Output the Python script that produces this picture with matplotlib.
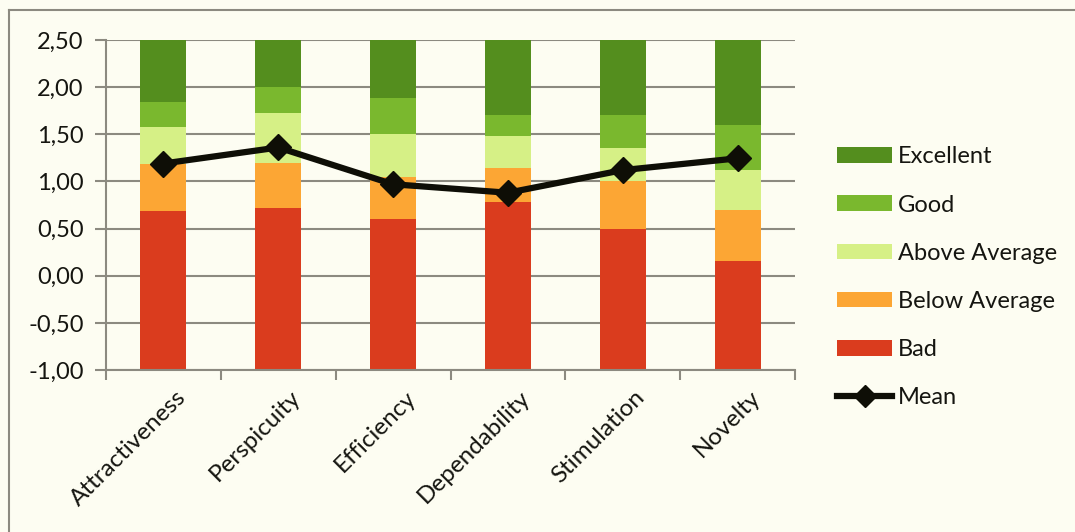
import matplotlib
matplotlib.use("Agg")
import matplotlib.pyplot as plt
import numpy as np
from matplotlib.lines import Line2D
from matplotlib.patches import Patch

categories = ["Attractiveness", "Perspicuity", "Efficiency", "Dependability", "Stimulation", "Novelty"]
# upper boundaries of each benchmark band
bad_upper = [0.69, 0.72, 0.60, 0.78, 0.50, 0.16]
below_upper = [1.18, 1.20, 1.05, 1.14, 1.00, 0.70]
above_upper = [1.58, 1.73, 1.50, 1.48, 1.35, 1.12]
good_upper = [1.84, 2.00, 1.88, 1.70, 1.70, 1.60]
excellent_upper = [2.50, 2.50, 2.50, 2.50, 2.50, 2.50]
mean_values = [1.19, 1.36, 0.97, 0.88, 1.12, 1.245]
y_min = -1.0
y_ticks = [-1.0, -0.5, 0.0, 0.5, 1.0, 1.5, 2.0, 2.5]

band_names = ["Bad", "Below Average", "Above Average", "Good", "Excellent"]
band_colors = ["#DA3C1E", "#FCA634", "#D6F086", "#7AB82E", "#548E1E"]

plt.rcParams['font.family'] = ['Lato', 'DejaVu Sans']
bg = "#FDFDF2"
txt = "#151510"
fig = plt.figure(figsize=(10.75, 5.32), dpi=100, facecolor=bg)
ax = fig.add_axes([106/1075, 1-370/532, (795-106)/1075, 330/532])
ax.set_facecolor(bg)

x = np.arange(len(categories))
uppers = [bad_upper, below_upper, above_upper, good_upper, excellent_upper]
bottom = np.full(len(categories), y_min)
for name, col, up in zip(band_names, band_colors, uppers):
    up = np.array(up)
    ax.bar(x, up - bottom, bottom=bottom, width=0.4, color=col, zorder=2, label=name)
    bottom = up

ax.plot(x, mean_values, color="#0E0E06", lw=4.5, marker="D", markersize=13,
        zorder=3, solid_joinstyle="round")

ax.set_xlim(-0.5, len(categories) - 0.5)
ax.set_ylim(y_min, 2.5)
ax.set_yticks(y_ticks)
ax.set_yticklabels([f"{v:.2f}".replace(".", ",") for v in y_ticks], fontsize=17, color=txt)
ax.yaxis.grid(True, color="#8C8A80", lw=1.5, zorder=1)
ax.set_axisbelow(True)

ax.set_xticks(np.arange(len(categories) + 1) - 0.5)
ax.set_xticklabels([])
ax.set_xticks(x + 0.1, minor=True)
ax.set_xticklabels(categories, minor=True, rotation=45, ha="right",
                   rotation_mode="anchor", fontsize=17.5, color=txt)
ax.tick_params(axis="x", which="minor", length=0, pad=12)
ax.tick_params(axis="x", which="major", length=7, color="#8C8A80", width=1.5)
ax.tick_params(axis="y", length=8, color="#8C8A80", width=1.5, pad=8)

for s in ["top", "right"]:
    ax.spines[s].set_visible(False)
for s in ["left", "bottom"]:
    ax.spines[s].set_color("#8C8A80")
    ax.spines[s].set_linewidth(1.5)

handles = [Patch(facecolor=c, label=n) for n, c in zip(band_names[::-1], band_colors[::-1])]
handles.append(Line2D([0], [0], color="#0E0E06", lw=4.5, marker="D", markersize=11, label="Mean"))
leg = fig.legend(handles=handles, loc="upper left", bbox_to_anchor=(828/1075, 1-137/532),
                 frameon=False, fontsize=17, handlelength=2.3, handleheight=0.65,
                 labelspacing=1.15, handletextpad=0.25, borderaxespad=0)
for t in leg.get_texts():
    t.set_color(txt)

# figure frame (left and top edges)
fig.add_artist(Line2D([8.5/1075, 8.5/1075], [0, 1-10/532], transform=fig.transFigure, color="#8C8A80", lw=1.5))
fig.add_artist(Line2D([8.5/1075, 1], [1-10/532, 1-10/532], transform=fig.transFigure, color="#8C8A80", lw=1.5))

fig.savefig("out.png", dpi=100, facecolor=bg)
